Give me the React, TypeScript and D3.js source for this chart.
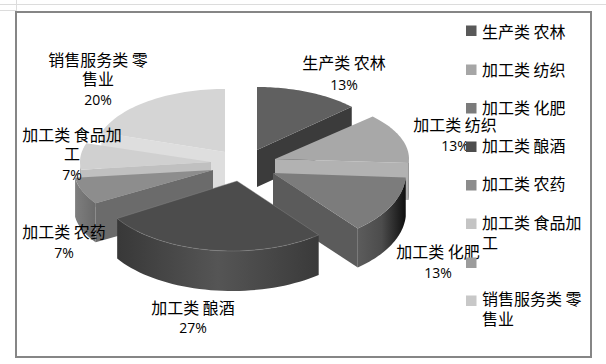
import React from "react";
import * as d3 from "d3";

const categories = ["生产类 农林", "加工类 纺织", "加工类 化肥", "加工类 酿酒", "加工类 农药", "加工类 食品加工", "", "销售服务类 零售业"];
const shares = [13, 13, 13, 27, 7, 7, 0, 20];
const swatchColors = ["#595959", "#a6a6a6", "#7b7b7b", "#4d4d4d", "#8c8c8c", "#c4c4c4", "#9c9c9c", "#c8c8c8"];
const topColors = ["#606060", "#a8a8a8", "#7c7c7c", "#4c4c4c", "#8d8d8d", "#d0d0d0", "#999", "#d5d5d5"];
const wallColors = ["#3b3b3b", "#b2b2b2", "#5b5b5b", "#444", "#6b6b6b", "#c0c0c0", "#999", "#dedede"];
// Rim shading, listed from left to right on the page
const rimStops = [
  ["#444", "#444"],
  ["#222", "#0c0c0c"],
  ["#5c5c5c", "#4c4c4c", "#0f0f0f"],
  ["#383838", "#555", "#3a3a3a"],
  ["#7e7e7e", "#6a6a6a"],
  ["#bbb", "#aaa"],
  ["#999", "#999"],
  ["#ccc", "#ccc"],
];

// Exploded-pie layout per slice: ellipse centre, radii, apex shift, thickness
const sliceCx = [257, 275, 273, 232, 213, 211, 211, 225];
const sliceCy = [150, 159, 173, 181, 170, 162, 162, 152];
const sliceRx = [130, 134, 133, 136, 139, 131, 131, 130];
const sliceRy = [63, 62, 72, 70, 62, 61, 61, 63];
const apexShift = [0, 0, 0, 5, 0, 0, 0, 0];
const depth = [37, 37, 39, 40, 39, 38, 38, 38];
const paintOrder = [0, 7, 5, 1, 4, 2, 3];

const labelLines = [
  { x: 344, lines: [["生产类 农林", 62]], pct: ["13%", 84] },
  { x: 455, lines: [["加工类 纺织", 124]], pct: ["13%", 145] },
  { x: 438, lines: [["加工类 化肥", 251]], pct: ["13%", 272] },
  { x: 193, lines: [["加工类 酿酒", 307]], pct: ["27%", 327] },
  { x: 64, lines: [["加工类 农药", 231]], pct: ["7%", 252] },
  { x: 72, lines: [["加工类 食品加", 134], ["工", 153]], pct: ["7%", 174] },
  { x: 98, lines: [["销售服务类 零", 59], ["售业", 78]], pct: ["20%", 99] },
];
const legendRows = [
  { swatch: 30.5, lines: [["生产类 农林", 31]] },
  { swatch: 69.5, lines: [["加工类 纺织", 69]] },
  { swatch: 108, lines: [["加工类 化肥", 107]] },
  { swatch: 146.5, lines: [["加工类 酿酒", 145]] },
  { swatch: 185, lines: [["加工类 农药", 183]] },
  { swatch: 223.5, lines: [["加工类 食品加", 222], ["工", 242]] },
  { swatch: 262.5, lines: [] },
  { swatch: 300.5, lines: [["销售服务类 零", 298], ["售业", 318]] },
];

const CJK = '"Noto Sans CJK SC", sans-serif';
const LATIN = '"Open Sans", "Liberation Sans", sans-serif';
const line = d3.line<[number, number]>();

export default function App() {
  const arcs = d3.pie<number>().sort(null).value((d) => d)(shares);
  const pt = (i: number, a: number, dy = 0): [number, number] => [
    sliceCx[i] + sliceRx[i] * Math.sin(a),
    sliceCy[i] - sliceRy[i] * Math.cos(a) + dy,
  ];
  const arcPts = (i: number, a0: number, a1: number, dy = 0) =>
    d3.range(41).map((k) => pt(i, a0 + ((a1 - a0) * k) / 40, dy));
  const apex = (i: number, dy = 0): [number, number] => [sliceCx[i] + apexShift[i], sliceCy[i] + dy];
  const H = Math.PI / 2;

  const sliceEls = paintOrder.map((i) => {
    const { startAngle: a0, endAngle: a1 } = arcs[i];
    const d = depth[i];
    const els: React.ReactNode[] = [];
    const wall = (a: number, key: string) => {
      const p = pt(i, a);
      els.push(
        <path key={key} fill={wallColors[i]}
          d={line([apex(i), p, [p[0], p[1] + d], apex(i, d)]) + "Z"} />
      );
    };
    if (a1 < Math.PI) wall(a1, "e");
    if (a0 > Math.PI) wall(a0, "s");
    const r0 = Math.max(a0, H), r1 = Math.min(a1, 3 * H);
    if (r1 > r0) {
      const front = arcPts(i, r0, r1);
      const back = arcPts(i, r0, r1, d).reverse();
      els.push(<path key="r" fill={`url(#rim${i})`} d={line([...front, ...back]) + "Z"} />);
    }
    els.push(
      <path key="t" fill={topColors[i]} stroke={i === 3 ? "#8a8a8a" : "none"} strokeWidth={0.4}
        d={line([apex(i), ...arcPts(i, a0, a1)]) + "Z"} />
    );
    return <g key={i}>{els}</g>;
  });

  return (
    <svg width={606} height={364} style={{ position: "absolute", left: 0, top: 0, background: "#fff" }}>
      <title>{categories.filter(Boolean).join(" / ")}</title>
      <defs>
        {rimStops.map((stops, i) => (
          <linearGradient key={i} id={`rim${i}`} x1="0" x2="1" y1="0" y2="0">
            {stops.map((c, k) => (
              <stop key={k} offset={k / (stops.length - 1)} stopColor={c} />
            ))}
          </linearGradient>
        ))}
      </defs>
      <g stroke="#dcdcdc" strokeWidth={1}>
        <line x1={0} x2={606} y1={4.5} y2={4.5} />
        <line x1={16.5} x2={16.5} y1={0} y2={11} />
        <line x1={0} x2={16} y1={10.5} y2={10.5} />
      </g>
      <rect x={16} y={12} width={575} height={345} fill="#fff" stroke="#868686" strokeWidth={2} />
      {sliceEls}
      <g textAnchor="middle" dominantBaseline="central">
        {labelLines.map((l, i) => (
          <g key={i}>
            {l.lines.map(([t, y], k) => (
              <text key={k} x={l.x} y={y as number} fontFamily={CJK} fontSize={16} fill="#000">{t}</text>
            ))}
            <text x={l.x} y={l.pct[1] as number} fontFamily={LATIN} fontSize={14} fill="#000">{l.pct[0]}</text>
          </g>
        ))}
      </g>
      <g dominantBaseline="central">
        {legendRows.map((r, i) => (
          <g key={i}>
            <rect x={466} y={r.swatch - 5} width={10.5} height={10.5} fill={swatchColors[i]} />
            {r.lines.map(([t, y], k) => (
              <text key={k} x={482} y={y as number} fontFamily={CJK} fontSize={16} fill="#000">{t}</text>
            ))}
          </g>
        ))}
      </g>
    </svg>
  );
}
